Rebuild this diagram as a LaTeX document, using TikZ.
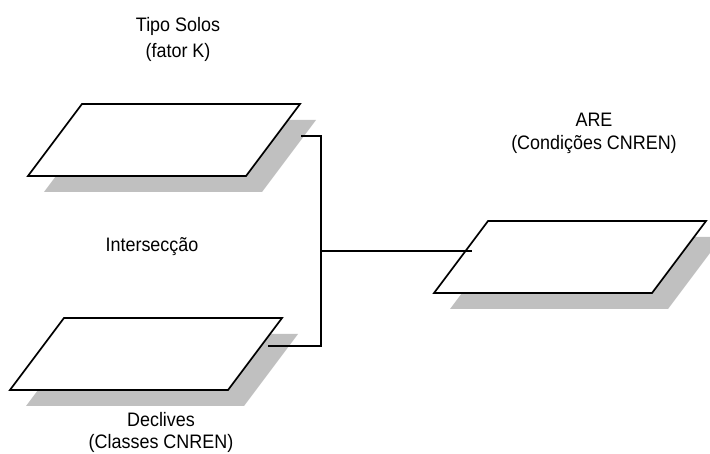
\documentclass[tikz,border=0pt]{standalone}
\usepackage{fontspec}
\setmainfont{Liberation Sans}
\newfontfamily\labelfont[FakeStretch=0.92]{Liberation Sans}
\usetikzlibrary{calc}
\definecolor{shadowgray}{RGB}{192,192,192}
\begin{document}
\begin{tikzpicture}[x=1pt,y=-1pt,
  label/.style={font=\labelfont\fontsize{19.5}{23}\selectfont, align=center, inner sep=0pt, anchor=base},
  layer/.style={draw=black, line width=1.7pt, fill=white, line join=miter},
  layershadow/.style={fill=shadowgray, draw=none},
  wire/.style={draw=black, line width=1.7pt}]
  \useasboundingbox (0,0) rectangle (710,454);

  % a map layer: parallelogram with a grey drop shadow, given its bottom-left corner
  \newcommand{\maplayer}[1]{%
    \fill[layershadow] ($(#1)+(16,16)$) -- ++(54,-72) -- ++(218,0) -- ++(-54,72) -- cycle;
    \path[layer] (#1) -- ++(54,-72) -- ++(218,0) -- ++(-54,72) -- cycle;}

  \coordinate (soilBL) at (28,176);
  \coordinate (slopeBL) at (10,390);
  \coordinate (areBL) at (434,293);

  \maplayer{soilBL}
  \maplayer{slopeBL}
  \maplayer{areBL}

  % labels (placed by the baseline of their last line)
  \node[label] (soil) at (178,58) {Tipo Solos\\[3pt](fator K)};
  \node[label] (are) at (594,150) {ARE\\(Condições CNREN)};
  \node[label] (inter) at (152,252) {Intersecção};
  \node[label] (slope) at (161,449) {Declives\\[-1pt](Classes CNREN)};

  % connectors between the layers
  \coordinate (soilport) at (301,136);
  \coordinate (bustop) at (321,136);
  \coordinate (busmid) at (321,251);
  \coordinate (busbot) at (321,346);
  \coordinate (slopeport) at (268,346);
  \coordinate (areport) at (472,251);

  \draw[wire] (soilport) -- (bustop) -- (busbot) -- (slopeport);
  \draw[wire] (busmid) -- (areport);
\end{tikzpicture}
\end{document}
